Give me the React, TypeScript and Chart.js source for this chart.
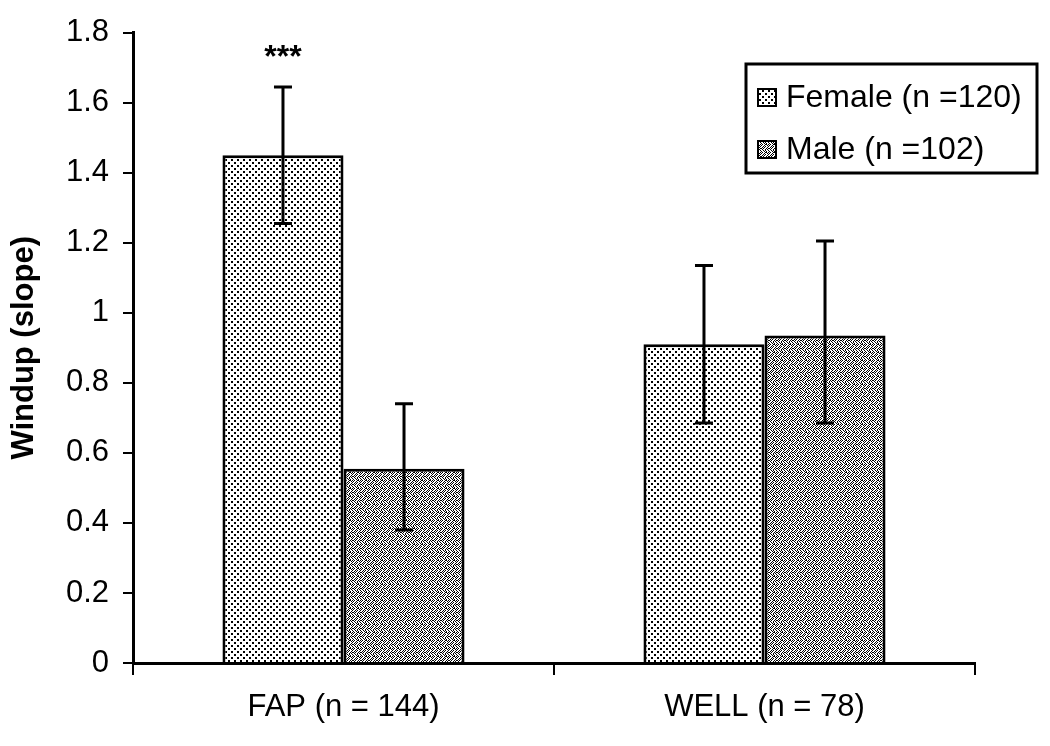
import React, { useEffect, useRef } from 'react';
import { Chart, registerables } from 'chart.js';

Chart.register(...registerables);

const categories = ['FAP (n = 144)', 'WELL (n = 78)'];
const seriesNames = ['Female (n =120)', 'Male (n =102)'];
const femaleMeans = [1.45, 0.91];
const maleMeans = [0.555, 0.935];
const femaleLow = [1.255, 0.685];
const femaleHigh = [1.645, 1.135];
const maleLow = [0.38, 0.685];
const maleHigh = [0.74, 1.205];
const femaleMarks = ['***', ''];
const markValue = 1.745;
const yTickValues = [0, 0.2, 0.4, 0.6, 0.8, 1, 1.2, 1.4, 1.6, 1.8];
const yTickLabels = ['0', '0.2', '0.4', '0.6', '0.8', '1', '1.2', '1.4', '1.6', '1.8'];

const FONT = '"Liberation Sans", Arial, sans-serif';

function makeTile(rows: string[], scale: number): HTMLCanvasElement {
  const c = document.createElement('canvas');
  c.width = rows[0].length * scale;
  c.height = rows.length * scale;
  const g = c.getContext('2d')!;
  g.fillStyle = '#ffffff';
  g.fillRect(0, 0, c.width, c.height);
  g.fillStyle = '#000000';
  rows.forEach((r, y) => {
    for (let x = 0; x < r.length; x++) {
      if (r[x] === '1') g.fillRect(x * scale, y * scale, scale, scale);
    }
  });
  return c;
}

const femaleTileRows = [
  '110000110000',
  '110000110000',
  '000000000000',
  '000110000110',
  '000110000110',
  '000000000000',
];
const maleTileRows = [
  '10100110',
  '01001001',
  '10010100',
  '00101001',
  '11010010',
  '00100101',
  '10010100',
  '01001010',
];

export default function App() {
  const ref = useRef<HTMLCanvasElement | null>(null);

  useEffect(() => {
    const canvas = ref.current!;
    const ctx = canvas.getContext('2d')!;
    const femalePattern = ctx.createPattern(makeTile(femaleTileRows, 1), 'repeat')!;
    const malePattern = ctx.createPattern(makeTile(maleTileRows, 1), 'repeat')!;

    const errorPlugin = {
      id: 'errbars',
      afterDatasetsDraw(chart: any) {
        const c = chart.ctx;
        const y = chart.scales.y;
        c.save();
        c.strokeStyle = '#000';
        c.lineWidth = 3;
        chart.data.datasets.forEach((ds: any, di: number) => {
          const meta = chart.getDatasetMeta(di);
          meta.data.forEach((el: any, i: number) => {
            const x = el.x;
            const yl = y.getPixelForValue(ds.errLow[i]);
            const yh = y.getPixelForValue(ds.errHigh[i]);
            c.beginPath();
            c.moveTo(x, yl);
            c.lineTo(x, yh);
            c.moveTo(x - 9, yl);
            c.lineTo(x + 9, yl);
            c.moveTo(x - 9, yh);
            c.lineTo(x + 9, yh);
            c.stroke();
            if (ds.marks && ds.marks[i]) {
              c.fillStyle = '#000';
              c.font = 'bold 32px ' + FONT;
              c.textAlign = 'center';
              c.textBaseline = 'middle';
              c.fillText(ds.marks[i], x, y.getPixelForValue(markValue) + 6);
            }
          });
        });
        c.restore();
      },
    };

    const legendPlugin = {
      id: 'boxlegend',
      afterDraw(chart: any) {
        const c = chart.ctx;
        c.save();
        c.strokeStyle = '#000';
        c.lineWidth = 3;
        c.strokeRect(746, 64, 291, 109);
        const pats = [femalePattern, malePattern];
        seriesNames.forEach((name, i) => {
          const yc = 97 + i * 52;
          c.fillStyle = pats[i];
          c.fillRect(758, yc - 8, 18, 17);
          c.lineWidth = 2;
          c.strokeRect(758, yc - 8, 18, 17);
          c.fillStyle = '#000';
          c.font = '32px ' + FONT;
          c.textAlign = 'left';
          c.textBaseline = 'middle';
          c.fillText(name, 786, yc + 1);
        });
        c.restore();
      },
    };

    const chart = new Chart(canvas, {
      type: 'bar',
      data: {
        labels: categories,
        datasets: [
          {
            label: seriesNames[0],
            data: femaleMeans,
            backgroundColor: femalePattern as any,
            borderColor: '#000',
            borderWidth: 3,
            errLow: femaleLow,
            errHigh: femaleHigh,
            marks: femaleMarks,
          } as any,
          {
            label: seriesNames[1],
            data: maleMeans,
            backgroundColor: malePattern as any,
            borderColor: '#000',
            borderWidth: 3,
            errLow: maleLow,
            errHigh: maleHigh,
          } as any,
        ],
      },
      options: {
        responsive: false,
        animation: false,
        devicePixelRatio: 1,
        layout: { padding: { top: 30, right: 75, left: 0, bottom: 0 } },
        datasets: { bar: { categoryPercentage: 0.575, barPercentage: 1.0 } },
        plugins: {
          legend: { display: false },
          tooltip: { enabled: false },
        },
        scales: {
          x: {
            afterFit: (s: any) => {
              s.height = 83;
            },
            grid: {
              display: true,
              drawOnChartArea: false,
              drawTicks: true,
              tickLength: 12,
              color: '#000',
              lineWidth: 2,
              offset: true,
            },
            border: { display: true, color: '#000', width: 3 },
            ticks: {
              color: '#000',
              font: { family: FONT, size: 31 },
              padding: 14,
            },
          },
          y: {
            min: 0,
            max: 1.8,
            afterFit: (s: any) => {
              s.width = 133;
            },
            afterBuildTicks: (s: any) => {
              s.ticks = yTickValues.map((v) => ({ value: v }));
            },
            grid: {
              display: true,
              drawOnChartArea: false,
              drawTicks: true,
              tickLength: 10,
              color: '#000',
              lineWidth: 2,
            },
            border: { display: true, color: '#000', width: 3 },
            ticks: {
              color: '#000',
              font: { family: FONT, size: 31 },
              padding: 14,
              callback: (_v: any, i: number) => yTickLabels[i],
            },
            title: {
              display: true,
              text: 'Windup (slope)',
              color: '#000',
              font: { family: FONT, size: 31, weight: 'bold' },
              padding: { top: 6, bottom: 0 },
            },
          },
        },
      },
      plugins: [errorPlugin, legendPlugin],
    });
    return () => chart.destroy();
  }, []);

  return (
    <div style={{ position: 'absolute', left: 0, top: 0, width: 1050, height: 746, background: '#fff' }}>
      <canvas ref={ref} width={1050} height={746} />
    </div>
  );
}
